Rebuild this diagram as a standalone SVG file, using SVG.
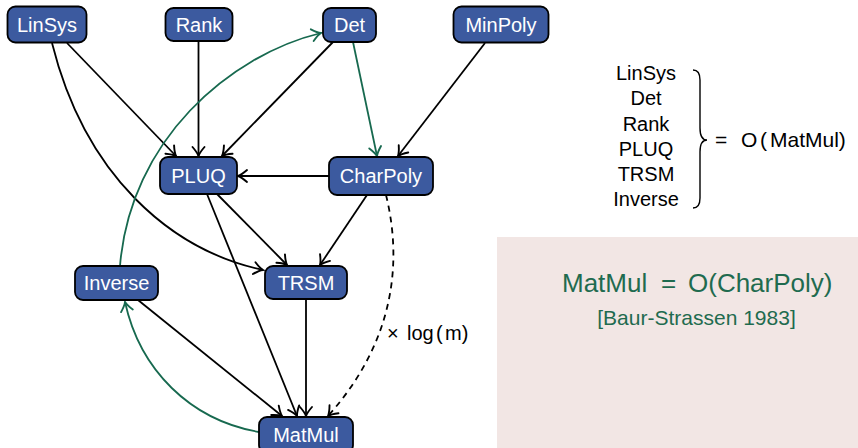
<svg xmlns="http://www.w3.org/2000/svg" width="858" height="448" viewBox="0 0 858 448">
  <style>
    .node rect { fill: #3c5a9f; stroke: #000; stroke-width: 1.8; }
    .node text { fill: #fff; font-family: "Liberation Sans", "DejaVu Sans", sans-serif; font-size: 20px; text-anchor: middle; dominant-baseline: central; }
    .edge { fill: none; stroke: #000; stroke-width: 1.8; }
    .edge.green { stroke: #17694f; }
    .edge.dash { stroke-dasharray: 6 5; }
    .list { font-family: "Liberation Sans", "DejaVu Sans", sans-serif; font-size: 20px; text-anchor: middle; fill: #000; }
    .math { font-family: "Liberation Sans", "DejaVu Sans", sans-serif; fill: #000; }
    .cite { font-family: "Liberation Sans", "DejaVu Sans", sans-serif; fill: #1f6b4f; }
  </style>
  <defs>
    <marker id="tip" markerUnits="userSpaceOnUse" markerWidth="16" markerHeight="16" viewBox="-12 -8 16 16" refX="0" refY="0" orient="auto">
      <path d="M-9,-6 Q-3.5,-1.2 0,0 Q-3.5,1.2 -9,6" fill="none" stroke="#000" stroke-width="1.9" stroke-linecap="round"/>
    </marker>
    <marker id="tipg" markerUnits="userSpaceOnUse" markerWidth="16" markerHeight="16" viewBox="-12 -8 16 16" refX="0" refY="0" orient="auto">
      <path d="M-9,-6 Q-3.5,-1.2 0,0 Q-3.5,1.2 -9,6" fill="none" stroke="#17694f" stroke-width="1.9" stroke-linecap="round"/>
    </marker>
  </defs>

  <!-- shaded panel -->
  <rect x="497" y="237" width="361" height="211" fill="#f2e6e4"/>

  <!-- connectors -->
  <g id="edges">
    <path class="edge" d="M67,43 L176,156" marker-end="url(#tip)"/>
    <path class="edge" d="M52,43 C85,175 170,250 263,270" marker-end="url(#tip)"/>
    <path class="edge" d="M198.5,41 L198.5,156" marker-end="url(#tip)"/>
    <path class="edge" d="M333,42 L222,156" marker-end="url(#tip)"/>
    <path class="edge green" d="M353,42 L377,156" marker-end="url(#tipg)"/>
    <path class="edge" d="M485,43 L398,156" marker-end="url(#tip)"/>
    <path class="edge" d="M329,176 L238,176" marker-end="url(#tip)"/>
    <path class="edge" d="M367,195 L320,265" marker-end="url(#tip)"/>
    <path class="edge dash" d="M386,195 C402,260 396,340 328,416" marker-end="url(#tip)"/>
    <path class="edge" d="M217,194 L287,265" marker-end="url(#tip)"/>
    <path class="edge" d="M207,194 L297,416" marker-end="url(#tip)"/>
    <path class="edge" d="M306,299 L306,416" marker-end="url(#tip)"/>
    <path class="edge" d="M138,300 L282,416" marker-end="url(#tip)"/>
    <path class="edge green" d="M259,432 C190,420 140,370 125,302" marker-end="url(#tipg)"/>
    <path class="edge green" d="M120,266 C130,140 230,55 321,33" marker-end="url(#tipg)"/>
    <text class="math" y="340" font-size="20"><tspan x="387">×</tspan><tspan x="407">log</tspan><tspan x="436">(</tspan><tspan x="445">m)</tspan></text>
  </g>

  <!-- nodes -->
  <g id="LinSys" class="node"><rect x="7.5" y="6.5" width="79" height="36" rx="8"/><text x="47" y="24.5">LinSys</text></g>
  <g id="Rank" class="node"><rect x="165.5" y="8" width="67" height="33" rx="8"/><text x="199" y="24.5">Rank</text></g>
  <g id="Det" class="node"><rect x="323" y="8" width="53" height="34" rx="8"/><text x="349.5" y="25">Det</text></g>
  <g id="MinPoly" class="node"><rect x="453.5" y="6.5" width="95" height="36" rx="8"/><text x="501" y="24.5">MinPoly</text></g>
  <g id="PLUQ" class="node"><rect x="160" y="157" width="77" height="37" rx="8"/><text x="198.5" y="175.5">PLUQ</text></g>
  <g id="CharPoly" class="node"><rect x="329" y="157" width="104" height="38" rx="8"/><text x="381" y="176">CharPoly</text></g>
  <g id="Inverse" class="node"><rect x="75" y="266" width="83" height="34" rx="8"/><text x="116.5" y="283">Inverse</text></g>
  <g id="TRSM" class="node"><rect x="265" y="266" width="82" height="33" rx="8"/><text x="306" y="282.5">TRSM</text></g>
  <g id="MatMul" class="node"><rect x="259" y="417" width="94" height="36" rx="8"/><text x="306" y="435">MatMul</text></g>

  <!-- complexity summary -->
  <g id="summary">
    <text class="list" x="646" y="80">LinSys</text>
    <text class="list" x="646" y="105">Det</text>
    <text class="list" x="646" y="131">Rank</text>
    <text class="list" x="646" y="156">PLUQ</text>
    <text class="list" x="646" y="181">TRSM</text>
    <text class="list" x="646" y="206">Inverse</text>
    <path d="M693,70 Q700,70 700,80 L700,128 Q700,140 707,140 Q700,140 700,152 L700,198 Q700,208 693,208" fill="none" stroke="#000" stroke-width="1.4"/>
    <text class="math" y="147" font-size="21"><tspan x="715">=</tspan><tspan x="741">O</tspan><tspan x="760">(</tspan><tspan x="770">MatMul)</tspan></text>
  </g>

  <g id="note">
    <text class="cite" y="292" font-size="26"><tspan x="562">MatMul</tspan><tspan x="661">=</tspan><tspan x="688">O(CharPoly)</tspan></text>
    <text class="cite" x="696.5" y="325" font-size="21" text-anchor="middle">[Baur-Strassen 1983]</text>
  </g>
</svg>
